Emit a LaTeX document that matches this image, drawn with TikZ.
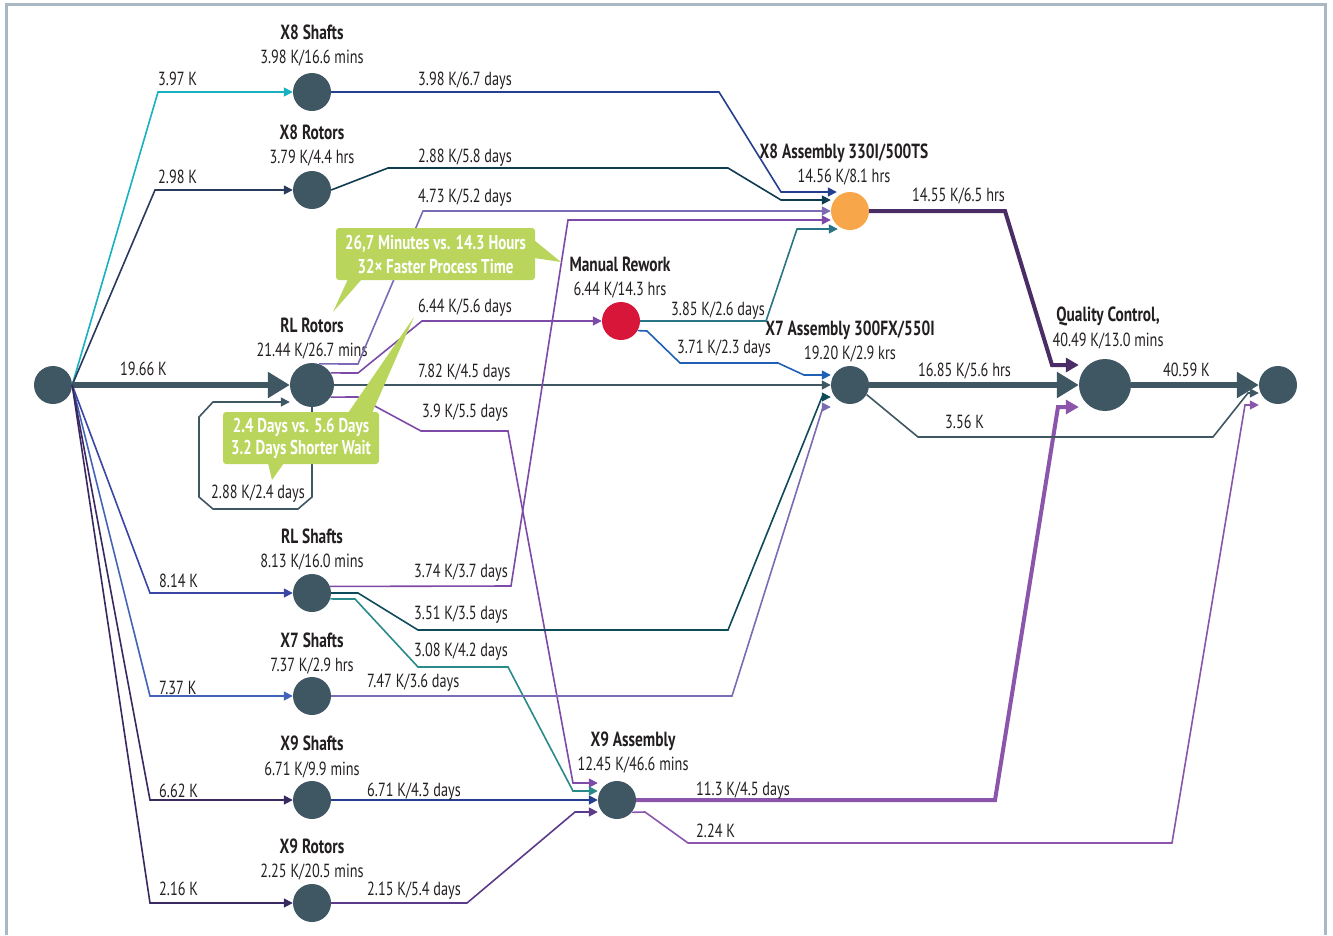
\documentclass[tikz,border=0pt]{standalone}
\usepackage{fontspec}
\setmainfont[FakeStretch=0.75]{PT Sans}
\usetikzlibrary{arrows.meta}

\definecolor{slate}{HTML}{3F5663}
\definecolor{ink}{HTML}{231F20}
\definecolor{framec}{HTML}{A9B8C2}
\definecolor{cyanc}{HTML}{17B1BF}
\definecolor{navy}{HTML}{2A3A5C}
\definecolor{indigo}{HTML}{3B45A3}
\definecolor{blueb}{HTML}{4263B8}
\definecolor{plum}{HTML}{3A2860}
\definecolor{royal}{HTML}{253F8F}
\definecolor{deepteal}{HTML}{0D3B50}
\definecolor{lavender}{HTML}{7B6BB5}
\definecolor{violetc}{HTML}{7D4AA8}
\definecolor{orchid}{HTML}{8A55AA}
\definecolor{tealb}{HTML}{2A7585}
\definecolor{azure}{HTML}{1D60B5}
\definecolor{petrol}{HTML}{0E4A5A}
\definecolor{seagreen}{HTML}{2A8A8A}
\definecolor{grape}{HTML}{5B3A8A}
\definecolor{aubergine}{HTML}{4A2D66}
\definecolor{rework}{HTML}{D7163A}
\definecolor{amber}{HTML}{F7A64A}
\definecolor{callgreen}{HTML}{B9D55C}

\begin{document}
\begin{tikzpicture}[x=1pt,y=-1pt]
      \tikzstyle{main}=[circle, minimum size = 38pt, inner sep = 0pt, fill = slate]
      \tikzstyle{ttl}=[anchor = base, inner sep = 0pt, text = ink, font = \bfseries\fontsize{20.5}{22}\selectfont]
      \tikzstyle{fig}=[anchor = base, inner sep = 0pt, text = ink, font = \fontsize{19}{21}\selectfont]
      \tikzstyle{flow}=[anchor = base west, inner sep = 0pt, text = ink, font = \fontsize{19}{21}\selectfont]
      \tikzstyle{connect}=[-{Triangle[length=9pt, width=9pt]}, line width = 1.6pt]
      \tikzstyle{mediumflow}=[-{Triangle[length=13pt, width=14pt]}, line width = 4pt]
      \tikzstyle{heavyflow}=[-{Triangle[length=22pt, width=25pt]}, line width = 6pt, draw = slate]
      \tikzstyle{callout}=[fill = callgreen, rounded corners = 3pt, text = white, align = center, font = \bfseries\fontsize{20}{24}\selectfont]

      \useasboundingbox (0,0) rectangle (1333,935);
      \draw[framec, line width = 3pt] (6,935) -- (6,4.5) -- (1325,4.5) -- (1325,935);

      % stations
      \node[main] (src) at (53,385) {};
      \node[main] (x8s) at (312,92) {};
      \node[main] (x8r) at (312,190) {};
      \node[main, minimum size = 44pt] (rlr) at (312,385) {};
      \node[main] (rls) at (312,593) {};
      \node[main] (x7s) at (312,696) {};
      \node[main] (x9s) at (312,800) {};
      \node[main] (x9r) at (312,903) {};
      \node[main, fill = rework] (mr) at (621,321) {};
      \node[main, fill = amber] (x8a) at (850,211) {};
      \node[main] (x7a) at (850,385) {};
      \node[main] (x9a) at (617,800) {};
      \node[main, minimum size = 52pt] (qc) at (1105,385) {};
      \node[main] (snk) at (1278,385) {};

      % station names
      \node[ttl] (x8s-t) at (312,39) {X8 Shafts};
      \node[fig] (x8s-f) at (312,63) {3.98 K/16.6 mins};
      \node[ttl] (x8r-t) at (312,139) {X8 Rotors};
      \node[fig] (x8r-f) at (312,163) {3.79 K/4.4 hrs};
      \node[ttl] (rlr-t) at (312,332) {RL Rotors};
      \node[fig] (rlr-f) at (312,356) {21.44 K/26.7 mins};
      \node[ttl] (rls-t) at (312,543) {RL Shafts};
      \node[fig] (rls-f) at (312,567) {8.13 K/16.0 mins};
      \node[ttl] (x7s-t) at (312,647) {X7 Shafts};
      \node[fig] (x7s-f) at (312,671) {7.37 K/2.9 hrs};
      \node[ttl] (x9s-t) at (312,750) {X9 Shafts};
      \node[fig] (x9s-f) at (312,775) {6.71 K/9.9 mins};
      \node[ttl] (x9r-t) at (312,853) {X9 Rotors};
      \node[fig] (x9r-f) at (312,877) {2.25 K/20.5 mins};
      \node[ttl] (mr-t) at (620,271) {Manual Rework};
      \node[fig] (mr-f) at (620,295) {6.44 K/14.3 hrs};
      \node[ttl] (x8a-t) at (844,158) {X8 Assembly 330I/500TS};
      \node[fig] (x8a-f) at (844,182) {14.56 K/8.1 hrs};
      \node[ttl] (x7a-t) at (850,335) {X7 Assembly 300FX/550I};
      \node[fig] (x7a-f) at (850,359) {19.20 K/2.9 krs};
      \node[ttl] (x9a-t) at (633,746) {X9 Assembly};
      \node[fig] (x9a-f) at (633,770) {12.45 K/46.6 mins};
      \node[ttl] (qc-t) at (1108,321) {Quality Control,};
      \node[fig] (qc-f) at (1108,346) {40.49 K/13.0 mins};

      % supply
      \draw[connect, cyanc] (src.east) -- (158,92) -- (x8s.west);
      \draw[connect, navy] (src.east) -- (155,190) -- (x8r.west);
      \draw[heavyflow] (src.east) -- (rlr.west);
      \draw[connect, indigo] (src.east) -- (150,593) -- (rls.west);
      \draw[connect, blueb] (src.east) -- (150,696) -- (x7s.west);
      \draw[connect, plum] (src.east) -- (150,800) -- (x9s.west);
      \draw[connect, plum] (src.east) -- (150,903) -- (x9r.west);

      % RL rotors
      \draw[connect, slate] (rlr.south) -- (312,497) -- (298,509) -- (213,509) -- (199,497)
        -- (199,417) -- (213,402) -- ([yshift=-17pt]rlr.west);
      \draw[connect, lavender] (rlr.72) -- (358,364) -- (423,211) -- (x8a.west);
      \draw[connect, violetc] (rlr.33) -- (358,373) -- (422,321) -- (mr.west);
      \draw[connect, slate] (rlr.east) -- (x7a.west);
      \draw[connect, violetc] (rlr.-33) -- (358,397) -- (421,431) -- (508,431) -- (573,783)
        -- ([yshift=17pt]x9a.west);

      % manual rework
      \draw[connect, tealb] (mr.east) -- (766,321) -- (797,229) -- ([xshift=7pt, yshift=-18pt]x8a.west);
      \draw[connect, azure] (mr.-30) -- (647,331) -- (680,363) -- (778,363) -- (804,375)
        -- ([yshift=10pt]x7a.west);

      % X8 parts
      \draw[connect, royal] (x8s.east) -- (719,92) -- (781,192) -- ([xshift=6pt, yshift=19pt]x8a.west);
      \draw[connect, deepteal] (x8r.east) -- (388,168) -- (728,168) -- (781,200) -- ([yshift=11pt]x8a.west);

      % RL shafts
      \draw[connect, violetc] (rls.20) -- (511,586) -- (568,220) -- ([yshift=-9pt]x8a.west);
      \draw[connect, petrol] (rls.east) -- (358,593) -- (418,630) -- (728,630) -- (822,397)
        -- ([yshift=-12pt]x7a.west);
      \draw[connect, seagreen] (rls.-18) -- (355,599) -- (418,667) -- (508,667) -- (573,791)
        -- ([yshift=9pt]x9a.west);

      % X7 and X9 parts
      \draw[connect, lavender] (x7s.east) -- (732,696) -- (823,407) -- ([yshift=-22pt]x7a.west);
      \draw[connect, royal] (x9s.east) -- (x9a.west);
      \draw[connect, grape] (x9r.east) -- (467,903) -- (575,812) -- ([yshift=-12pt]x9a.west);

      % assemblies
      \draw[mediumflow, orchid] (x9a.east) -- (995,800) -- (1058,407) -- ([yshift=-22pt]qc.west);
      \draw[connect, orchid] (x9a.-40) -- (645,812) -- (688,843) -- (1172,843) -- (1245,405)
        -- ([yshift=-20pt]snk.west);
      \draw[heavyflow] (x7a.east) -- (qc.west);
      \draw[connect, slate] (x7a.-30) -- (918,437) -- (1213,437) -- (1248,393) -- ([yshift=-8pt]snk.west);
      \draw[mediumflow, aubergine] (x8a.east) -- (1005,211) -- (1052,365) -- ([yshift=20pt]qc.west);
      \draw[heavyflow] (qc.east) -- (snk.west);

      % flow labels
      \node[flow] (l-x8s) at (158,85) {3.97 K};
      \node[flow] (l-x8r) at (158,183) {2.98 K};
      \node[flow] (l-rlr) at (120,375) {19.66 K};
      \node[flow] (l-rls) at (159,587) {8.14 K};
      \node[flow] (l-x7s) at (159,694) {7.37 K};
      \node[flow] (l-x9s) at (159,797) {6.62 K};
      \node[flow] (l-x9r) at (159,895) {2.16 K};
      \node[flow] (l-x8s-x8a) at (418,85) {3.98 K/6.7 days};
      \node[flow] (l-x8r-x8a) at (418,162) {2.88 K/5.8 days};
      \node[flow] (l-rlr-x8a) at (418,202) {4.73 K/5.2 days};
      \node[flow] (l-rlr-mr) at (418,312) {6.44 K/5.6 days};
      \node[flow] (l-rlr-x7a) at (418,377) {7.82 K/4.5 days};
      \node[flow] (l-rlr-x9a) at (422,417) {3.9 K/5.5 days};
      \node[flow] (l-rlr-rlr) at (211,498) {2.88 K/2.4 days};
      \node[flow] (l-mr-x8a) at (671,315) {3.85 K/2.6 days};
      \node[flow] (l-mr-x7a) at (677,353) {3.71 K/2.3 days};
      \node[flow] (l-rls-x8a) at (414,577) {3.74 K/3.7 days};
      \node[flow] (l-rls-x7a) at (414,619) {3.51 K/3.5 days};
      \node[flow] (l-rls-x9a) at (414,656) {3.08 K/4.2 days};
      \node[flow] (l-x7s-x7a) at (367,687) {7.47 K/3.6 days};
      \node[flow] (l-x9s-x9a) at (367,796) {6.71 K/4.3 days};
      \node[flow] (l-x9r-x9a) at (367,895) {2.15 K/5.4 days};
      \node[flow] (l-x9a-qc) at (696,795) {11.3 K/4.5 days};
      \node[flow] (l-x9a-snk) at (696,837) {2.24 K};
      \node[flow] (l-x8a-qc) at (912,201) {14.55 K/6.5 hrs};
      \node[flow] (l-x7a-qc) at (918,376) {16.85 K/5.6 hrs};
      \node[flow] (l-x7a-snk) at (945,428) {3.56 K};
      \node[flow] (l-qc-snk) at (1163,376) {40.59 K};

      % callouts
      \fill[callgreen] (348,279) -- (333,312) -- (362,279) -- cycle;
      \fill[callgreen] (534,240) -- (561,262) -- (534,258) -- cycle;
      \node[callout, minimum width = 199pt, minimum height = 52pt] (speed) at (435.5,254)
        {26,7 Minutes vs. 14.3 Hours\\32× Faster Process Time};
      \fill[callgreen] (348,413) -- (414,317) -- (372,413) -- cycle;
      \fill[callgreen] (268,463) -- (272,480) -- (284,463) -- cycle;
      \node[callout, minimum width = 156pt, minimum height = 52pt,
        font = \bfseries\fontsize{20}{22}\selectfont] (wait) at (301,438)
        {2.4 Days vs. 5.6 Days\\3.2 Days Shorter Wait};

\end{tikzpicture}
\end{document}
